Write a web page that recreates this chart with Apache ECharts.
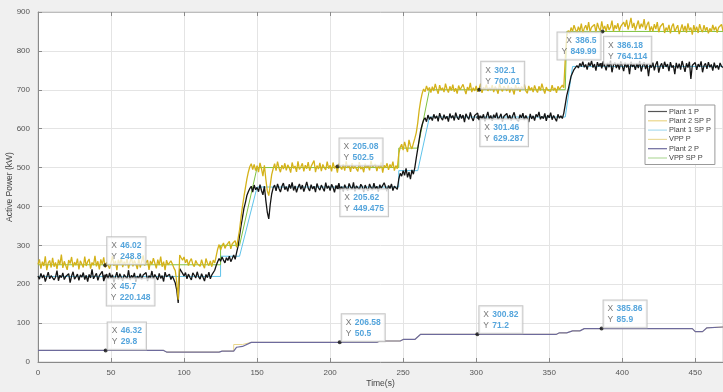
<!DOCTYPE html>
<html>
<head>
<meta charset="utf-8">
<script src="https://cdn.jsdelivr.net/npm/echarts@6/dist/echarts.min.js"></script>
<style>html,body{margin:0;padding:0;background:#f0f0f0;}#c{width:723px;height:392px;}</style>
</head>
<body>
<div id="c"></div>
<script>
// sample step of the noisy measured series (seconds)
const sampleStep = 1;
// Plant 1 P (kW), sampled every 1 s from t = 0
const plant1P = [
221,213,228,216,224,207,219,231,214,222,
226,211,218,235,209,223,217,229,212,220,
215,227,204,221,232,213,219,226,210,224,
218,230,212,223,207,225,216,238,214,221,
228,210,222,217,233,208,220,226,213,229,
216,224,205,219,231,212,227,218,209,225,
220,214,236,211,223,217,229,206,221,215,
227,212,224,219,230,208,222,216,234,213,
225,218,211,228,215,222,207,231,219,214,
226,212,221,217,203,185,152,240,236,228,
221,230,214,226,218,211,229,223,216,232,
219,213,227,222,208,225,217,231,214,224,
228,236,248,258,266,259,270,262,255,268,
261,272,258,266,275,264,282,298,325,350,
372,395,410,428,438,446,452,437,455,443,
449,438,456,441,430,452,415,385,368,405,
432,448,455,440,458,446,437,452,460,443,
451,439,457,446,462,441,453,436,449,458,
444,455,438,450,463,447,440,456,445,452,
437,459,448,442,455,450,439,461,446,453,
441,457,449,436,454,445,460,443,451,438,
456,447,441,459,450,444,462,439,453,448,
443,457,451,437,455,446,440,458,449,442,
460,445,452,438,456,447,443,461,450,439,
454,446,458,441,452,448,444,470,485,478,
492,480,498,475,488,470,494,483,500,525,
548,572,595,610,622,628,618,635,624,630,
621,637,626,633,619,640,628,622,636,625,
632,618,639,627,634,621,641,629,623,637,
626,635,617,638,630,624,642,628,620,634,
629,640,622,633,626,637,619,631,643,625,
634,620,636,628,641,623,630,638,618,632,
627,639,624,635,621,633,642,626,630,619,
636,628,640,622,634,629,617,638,625,633,
621,637,630,643,624,632,626,639,620,635,
628,641,623,634,630,619,637,627,633,626,
640,662,685,700,718,735,744,752,749,762,
756,768,760,772,758,765,752,770,761,774,
757,766,749,771,760,768,755,773,762,750,
769,758,775,745,764,770,756,767,752,773,
761,748,770,757,766,740,772,759,765,751,
768,756,774,747,762,771,753,766,735,764,
757,770,750,765,773,744,761,768,754,772,
759,766,748,771,757,763,740,769,755,767,
752,774,760,746,768,757,772,728,763,758,
770,751,766,759,773,745,762,768,754,771,
758,765,749,770,756,763,752,769,760,757
];
// VPP P (kW), sampled every 1 s from t = 0
const vppP = [
251,264,240,258,247,272,236,255,261,243,
268,245,256,239,263,250,276,242,259,248,
237,262,253,270,244,257,249,266,238,260,
252,243,271,247,258,265,240,256,249,273,
246,259,238,264,251,269,243,257,262,240,
255,272,247,260,236,263,250,268,244,258,
249,265,241,257,270,246,261,252,239,266,
243,258,274,248,256,262,237,260,251,267,
254,241,263,249,271,245,258,236,262,250,
247,260,252,242,235,205,160,275,268,262,
270,255,264,248,259,266,251,245,261,253,
258,246,263,250,241,266,254,248,260,245,
262,255,272,290,302,288,298,306,292,300,
296,310,291,304,299,312,295,318,340,372,
400,425,448,470,488,502,510,495,508,492,
505,488,512,497,478,506,470,440,428,455,
482,497,510,492,515,499,488,506,496,511,
493,507,500,487,513,498,504,489,516,495,
502,511,490,506,497,514,492,503,499,518,
488,505,496,512,491,508,500,494,515,497,
506,490,513,498,504,487,510,501,495,509,
492,516,499,505,489,511,497,503,508,490,
514,496,502,488,510,499,506,493,517,501,
497,509,491,504,498,513,487,506,500,511,
494,508,500,515,492,505,497,535,552,560,
545,566,552,540,571,556,548,562,575,590,
615,648,672,690,702,695,710,698,706,693,
708,697,715,701,690,712,699,705,694,716,
702,693,709,698,713,695,704,690,711,700,
696,714,701,689,707,699,718,694,705,697,
710,695,703,716,692,706,700,713,697,705,
699,712,694,708,701,690,715,703,696,709,
704,697,711,693,706,700,688,712,699,707,
695,708,702,714,697,691,710,699,706,694,
711,700,693,709,698,716,702,690,707,699,
703,696,712,698,705,692,709,701,697,712,
705,780,838,852,845,860,850,866,855,848,
862,851,870,846,858,866,853,874,849,861,
856,868,847,872,859,852,876,855,864,850,
869,854,861,878,850,866,857,871,852,863,
858,874,862,880,855,868,885,859,872,853,
866,878,857,870,861,882,854,867,875,851,
863,850,869,856,874,848,862,858,871,846,
860,852,867,845,863,870,849,858,866,843,
855,868,850,864,847,871,853,860,842,866,
851,862,846,869,855,848,866,852,861,845,
858,849,867,853,862,847,860,855,868,851
];
// step series: [time (s), kW]
const vppSP = [[0,250],[125,250],[125,300],[138,300],[150,500],[247,500],[247,550],[260,550],[268,700],[361,700],[362,850],[469,850]];
const plant1SP = [[0,220],[125,220],[125,272],[138,272],[150,450],[247,450],[247,492],[260,492],[268,630],[361,630],[366,760],[469,760]];
const plant2P = [[0,29.8],[86,29.8],[88,25.5],[124,25.5],[126,28],[134,28],[136,38],[140,40],[146,50.5],[232,50.5],[234,54],[248,54],[250,58],[258,58],[262,71.2],[355,71.2],[357,75],[362,75],[366,80],[371,80],[374,85.9],[448,85.9],[450,78],[455,78],[458,88],[469,90]];
const plant2SP = [[0,29.8],[86,29.8],[88,25.5],[124,25.5],[126,28],[134,28],[134,45],[140,45],[146,50.5],[232,50.5],[234,54],[248,54],[250,58],[258,58],[262,71.2],[355,71.2],[357,75],[362,75],[366,80],[371,80],[374,85.9],[448,85.9],[450,78],[455,78],[458,88],[469,90]];
// data tips
const tipX = ['46.02','45.7','46.32','205.08','205.62','206.58','302.1','301.46','300.82','386.5','386.18','385.86'];
const tipY = ['248.8','220.148','29.8','502.5','449.475','50.5','700.01','629.287','71.2','849.99','764.114','85.9'];
const tipSide = ['up','down','up','up','down','up','up','down','up','left','up','up'];
const xTicks = [0,50,100,150,200,250,300,350,400,450];
const yTicks = [0,100,200,300,400,500,600,700,800,900];

const withTime = arr => arr.map((v,i)=>[i*sampleStep, v]);

const posFor = s => {
  if (s === 'up') return {position:[4,1], align:'left', verticalAlign:'bottom'};
  if (s === 'down') return {position:[4,4], align:'left', verticalAlign:'top'};
  return {position:[0,3], align:'right', verticalAlign:'top'};
};
const tipData = tipX.map((x,i)=>({
  value:[parseFloat(x), parseFloat(tipY[i])],
  label: posFor(tipSide[i]),
  tx: x, ty: tipY[i]
}));

const chart = echarts.init(document.getElementById('c'), null, {renderer:'canvas'});
const font = 'Liberation Sans, Arial, sans-serif';
const axisCommon = {
  axisLine:{show:true, lineStyle:{color:'#8a8a8a', width:1}},
  axisTick:{show:true, inside:true, length:4, lineStyle:{color:'#8a8a8a'}},
  axisLabel:{color:'#555', fontSize:8, fontFamily:font},
};
chart.setOption({
  backgroundColor:'#f0f0f0',
  animation:false,
  grid:{left:38, right:0, top:12, bottom:30, outerBoundsMode:'none', containLabel:false, show:true, backgroundColor:'#ffffff', borderColor:'#cfcfcf', borderWidth:1},
  xAxis:[{
    type:'value', min:0, max:469, interval:50,
    name:'Time(s)', nameLocation:'middle', nameGap:17, nameMoveOverlap:false,
    nameTextStyle:{color:'#444', fontSize:8.5, fontFamily:font},
    ...axisCommon,
    axisLabel:{...axisCommon.axisLabel, margin:7, formatter:v=> xTicks.includes(v)? String(v):''},
    splitLine:{show:true, lineStyle:{color:'#e4e4e4', width:1}}
  },{
    type:'value', min:0, max:469, interval:50, position:'top',
    axisLine:{show:true, lineStyle:{color:'#bdbdbd'}},
    axisTick:{show:true, inside:true, length:4, lineStyle:{color:'#8a8a8a'}},
    axisLabel:{show:false}, splitLine:{show:false}
  }],
  yAxis:{
    type:'value', min:0, max:900, interval:100,
    name:'Active Power (kW)', nameLocation:'middle', nameGap:24, nameRotate:90, nameMoveOverlap:false,
    nameTextStyle:{color:'#444', fontSize:8.5, fontFamily:font},
    ...axisCommon,
    axisLabel:{...axisCommon.axisLabel, margin:8, formatter:v=> yTicks.includes(v)? String(v):''},
    splitLine:{show:true, lineStyle:{color:'#e4e4e4', width:1}}
  },
  legend:{
    data:['Plant 1 P','Plant 2 SP P','Plant 1 SP P','VPP P','Plant 2 P','VPP SP P'],
    orient:'vertical', left:645, top:105,
    backgroundColor:'#ffffff', borderColor:'#9a9a9a', borderWidth:1,
    padding:[3,4,3,3], itemGap:2.3, itemWidth:19, itemHeight:1.2, icon:'rect',
    textStyle:{fontSize:7.4, color:'#444', fontFamily:font, padding:[0,0,0,-3]}
  },
  series:[
    {name:'Plant 2 SP P', type:'line', data:plant2SP, showSymbol:false, z:2,
      lineStyle:{color:'#ead68a', width:1}, itemStyle:{color:'#ead68a'}},
    {name:'Plant 1 SP P', type:'line', data:plant1SP, showSymbol:false, z:2,
      lineStyle:{color:'#5ec3ea', width:1}, itemStyle:{color:'#a9dcef'}},
    {name:'VPP SP P', type:'line', data:vppSP, showSymbol:false, z:2,
      lineStyle:{color:'#7fc241', width:1}, itemStyle:{color:'#b5dba0'}},
    {name:'Plant 1 P', type:'line', data:withTime(plant1P), showSymbol:false, z:3,
      lineStyle:{color:'#141414', width:1.3}, itemStyle:{color:'#555'}},
    {name:'VPP P', type:'line', data:withTime(vppP), showSymbol:false, z:3,
      lineStyle:{color:'#d4b21a', width:1.3}, itemStyle:{color:'#eadb9c'}},
    {name:'Plant 2 P', type:'line', data:plant2P, showSymbol:false, z:4,
      lineStyle:{color:'#6d6a9c', width:1.2}, itemStyle:{color:'#6d6a9c'}},
    {name:'tips', type:'scatter', data:tipData, symbolSize:4, z:10,
      itemStyle:{color:'#111'},
      label:{show:true, formatter:p=>'{k|X} {v|'+p.data.tx+'}\n{k|Y} {v|'+p.data.ty+'}',
        backgroundColor:'rgba(255,255,255,0.92)', borderColor:'#b8b8b8', borderWidth:1,
        padding:[3,4,2,4], lineHeight:11,
        rich:{k:{color:'#555', fontSize:8.5, fontFamily:font}, v:{color:'#2b8fd3', fontSize:8.5, fontWeight:'bold', fontFamily:font}}}
    }
  ]
});
</script>
</body>
</html>
